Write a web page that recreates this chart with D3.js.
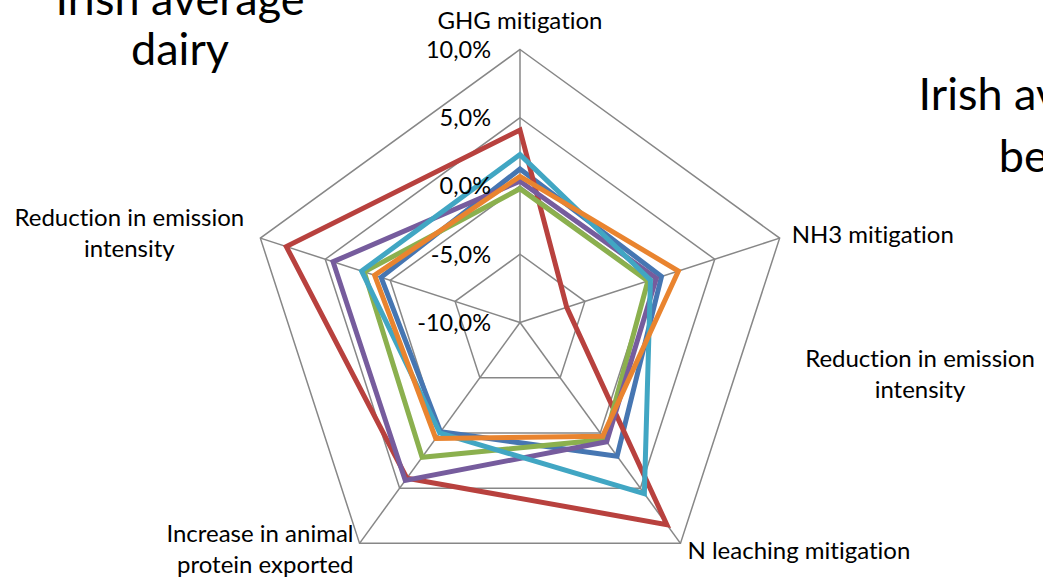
<!DOCTYPE html>
<html>
<head>
<meta charset="utf-8">
<script src="https://cdn.jsdelivr.net/npm/d3@7"></script>
<style>
  html, body { margin: 0; padding: 0; background: #fff; }
  svg { display: block; }
  text { font-family: Lato, "Open Sans", "DejaVu Sans", sans-serif; fill: #000;
         font-variant-ligatures: none; font-feature-settings: "liga" 0; }
</style>
</head>
<body>
<svg id="chart" width="1043" height="584"></svg>
<script>
// Spoke categories, clockwise from the top
const categories = [
  "GHG mitigation",
  "NH3 mitigation",
  "N leaching mitigation",
  "Increase in animal protein exported",
  "Reduction in emission intensity"
];

// Radial tick values (%) and their labels
const tickValues = [-10, -5, 0, 5, 10];
const tickLabels = ["-10,0%", "-5,0%", "0,0%", "5,0%", "10,0%"];

// Scenario series, one value (%) per category
const seriesBlue   = [1.25, 0.9, 2.1, -0.1, 0.7];
const seriesRed    = [4.1, -6.4, 8.3, 4.1, 8.0];
const seriesGreen  = [-0.2, -0.15, 0.6, 2.2, 2.0];
const seriesPurple = [0.35, 0.5, 0.8, 4.3, 4.4];
const seriesAqua   = [2.3, 0.05, 5.5, 0.0, 2.2];
const seriesOrange = [0.7, 2.2, 0.3, 0.5, 1.2];

const seriesList = [
  { values: seriesBlue,   color: "#4676b2" },
  { values: seriesRed,    color: "#b8413e" },
  { values: seriesGreen,  color: "#8bb04e" },
  { values: seriesPurple, color: "#765c9d" },
  { values: seriesAqua,   color: "#41a6c3" },
  { values: seriesOrange, color: "#e9842f" }
];

const svg = d3.select("#chart");
const cx = 520, cy = 322.5, R = 273;
const n = categories.length;
const angle = i => i * 2 * Math.PI / n;

const r = d3.scaleLinear().domain([-10, 10]).range([0, R]);
const px = (i, v) => cx + r(v) * Math.sin(angle(i));
const py = (i, v) => cy - r(v) * Math.cos(angle(i));

const g = svg.append("g").attr("transform", `translate(${cx},${cy})`);

// Grid pentagons
const gridLine = d3.lineRadial()
  .angle((d, i) => angle(i))
  .radius(d => r(d))
  .curve(d3.curveLinearClosed);

g.selectAll("path.grid")
  .data(tickValues.filter(t => t > -10))
  .join("path")
  .attr("class", "grid")
  .attr("d", t => gridLine(d3.range(n).map(() => t)))
  .attr("fill", "none")
  .attr("stroke", "#878787")
  .attr("stroke-width", 1.5);

// Spokes
g.selectAll("line.spoke")
  .data(d3.range(n))
  .join("line")
  .attr("class", "spoke")
  .attr("x1", 0).attr("y1", 0)
  .attr("x2", i => r(10) * Math.sin(angle(i)))
  .attr("y2", i => -r(10) * Math.cos(angle(i)))
  .attr("stroke", "#878787")
  .attr("stroke-width", 1.5);

// Series outlines
const seriesLine = d3.lineRadial()
  .angle((d, i) => angle(i))
  .radius(d => r(d))
  .curve(d3.curveLinearClosed);

g.selectAll("path.series")
  .data(seriesList)
  .join("path")
  .attr("class", "series")
  .attr("d", s => seriesLine(s.values))
  .attr("fill", "none")
  .attr("stroke", s => s.color)
  .attr("stroke-width", 5)
  .attr("stroke-linejoin", "miter")
  .attr("stroke-miterlimit", 10);

// Radial tick labels, right-aligned beside the top spoke
svg.selectAll("text.tick")
  .data(tickValues)
  .join("text")
  .attr("class", "tick")
  .attr("x", cx - 29)
  .attr("y", t => cy - r(t))
  .attr("dy", "0.36em")
  .attr("text-anchor", "end")
  .attr("font-size", 23.5)
  .text((t, i) => tickLabels[i]);

// Category labels around the outer ring
const labelFont = 24;
const catLayout = [
  { lines: [categories[0]], anchor: "middle", dx: 0, dy: -21 },
  { lines: [categories[1]], anchor: "start", dx: 12, dy: 5 },
  { lines: [categories[2]], anchor: "start", dx: 7, dy: 16 },
  { lines: ["Increase in animal", "protein exported"], anchor: "end", dx: -6, dy: -1 },
  { lines: ["Reduction in emission", "intensity"], anchor: "middle", dx: -131, dy: -12 }
];

catLayout.forEach((c, i) => {
  const t = svg.append("text")
    .attr("text-anchor", c.anchor)
    .attr("font-size", labelFont)
    .attr("x", px(i, 10) + c.dx)
    .attr("y", py(i, 10) + c.dy);
  c.lines.forEach((ln, k) => {
    t.append("tspan")
      .attr("x", px(i, 10) + c.dx)
      .attr("dy", k === 0 ? "0em" : "1.27em")
      .text(ln);
  });
});

// Panel titles
const titleDairy = ["Irish average", "dairy"];
const titleBeef = ["Irish average", "beef"];

svg.append("text")
  .attr("font-size", 45)
  .attr("text-anchor", "middle")
  .selectAll("tspan")
  .data(titleDairy)
  .join("tspan")
  .attr("x", 180)
  .attr("y", (d, i) => 15 + i * 50)
  .text(d => d);

svg.append("text")
  .attr("font-size", 45)
  .attr("text-anchor", "middle")
  .selectAll("tspan")
  .data(titleBeef)
  .join("tspan")
  .attr("x", 1043)
  .attr("y", (d, i) => 110 + i * 62)
  .text(d => d);

// Neighbouring panel's spoke label
svg.append("text")
  .attr("font-size", labelFont)
  .attr("text-anchor", "middle")
  .selectAll("tspan")
  .data(["Reduction in emission", "intensity"])
  .join("tspan")
  .attr("x", 920)
  .attr("y", (d, i) => 367 + i * 31)
  .text(d => d);
</script>
</body>
</html>
